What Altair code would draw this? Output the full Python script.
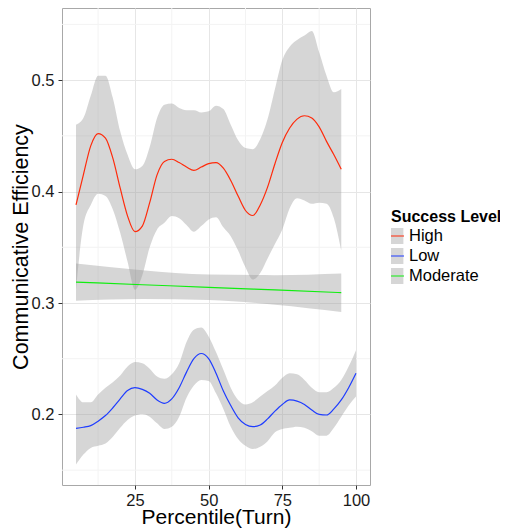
import altair as alt
import pandas as pd

levels = ["High", "Low", "Moderate"]
line_colors = ["#ff2a0a", "#1f3dff", "#10ee10"]

# High success level (smooth fit with confidence band)
x_high = [5, 7.5, 10, 12.5, 15, 17.5, 20, 22.5, 25, 27.5, 30, 32.5, 35, 37.5, 40,
          42.5, 45, 47.5, 50, 52.5, 55, 57.5, 60, 62.5, 65, 67.5, 70, 72.5, 75,
          77.5, 80, 82.5, 85, 87.5, 90, 92.5, 95]
high_fit = [0.388, 0.415, 0.441, 0.452, 0.448, 0.430, 0.403, 0.378, 0.364, 0.369,
            0.390, 0.415, 0.427, 0.429, 0.426, 0.422, 0.419, 0.422, 0.425, 0.426,
            0.421, 0.410, 0.396, 0.383, 0.3785, 0.388, 0.404, 0.425, 0.444, 0.457,
            0.465, 0.468, 0.466, 0.458, 0.445, 0.433, 0.420]
high_upper = [0.460, 0.466, 0.486, 0.504, 0.504, 0.484, 0.454, 0.433, 0.420, 0.423,
              0.440, 0.466, 0.478, 0.479, 0.475, 0.473, 0.473, 0.471, 0.472, 0.477,
              0.474, 0.460, 0.446, 0.439, 0.438, 0.447, 0.465, 0.492, 0.518, 0.530,
              0.536, 0.540, 0.544, 0.525, 0.504, 0.489, 0.492]
high_lower = [0.312, 0.370, 0.388, 0.398, 0.396, 0.384, 0.363, 0.337, 0.312, 0.325,
              0.350, 0.366, 0.372, 0.378, 0.376, 0.370, 0.364, 0.369, 0.375, 0.377,
              0.368, 0.360, 0.347, 0.332, 0.321, 0.327, 0.340, 0.353, 0.366, 0.385,
              0.394, 0.392, 0.389, 0.390, 0.389, 0.376, 0.347]

# Low success level
x_low = [5, 7.5, 10, 12.5, 15, 17.5, 20, 22.5, 25, 27.5, 30, 32.5, 35, 37.5, 40,
         42.5, 45, 47.5, 50, 52.5, 55, 57.5, 60, 62.5, 65, 67.5, 70, 72.5, 75,
         77.5, 80, 82.5, 85, 87.5, 90, 92.5, 95, 97.5, 100]
low_fit = [0.1875, 0.1885, 0.190, 0.194, 0.199, 0.206, 0.214, 0.2215, 0.224, 0.2225,
           0.219, 0.213, 0.210, 0.214, 0.224, 0.238, 0.250, 0.2547, 0.250, 0.237,
           0.221, 0.208, 0.197, 0.191, 0.189, 0.1905, 0.196, 0.203, 0.209, 0.213,
           0.212, 0.209, 0.204, 0.200, 0.1995, 0.205, 0.213, 0.224, 0.237]
low_upper = [0.218, 0.211, 0.211, 0.218, 0.224, 0.229, 0.235, 0.243, 0.247, 0.246,
             0.241, 0.234, 0.232, 0.236, 0.246, 0.265, 0.276, 0.278, 0.270, 0.256,
             0.240, 0.224, 0.213, 0.209, 0.211, 0.216, 0.221, 0.226, 0.233, 0.237,
             0.236, 0.231, 0.224, 0.220, 0.220, 0.224, 0.231, 0.243, 0.2577]
low_lower = [0.155, 0.164, 0.170, 0.172, 0.174, 0.180, 0.188, 0.195, 0.199, 0.2005,
             0.198, 0.192, 0.187, 0.189, 0.198, 0.215, 0.226, 0.231, 0.230, 0.219,
             0.205, 0.189, 0.178, 0.172, 0.169, 0.171, 0.176, 0.184, 0.187, 0.188,
             0.189, 0.188, 0.185, 0.181, 0.181, 0.188, 0.198, 0.208, 0.216]

# Moderate success level (linear fit)
x_mod = [5, 27.5, 50, 72.5, 95]
mod_fit = [0.3188, 0.3164, 0.3141, 0.3117, 0.3093]
mod_upper = [0.3355, 0.3295, 0.3255, 0.3250, 0.3265]
mod_lower = [0.3020, 0.3035, 0.3027, 0.2985, 0.2920]

# axis tick values and minor grid positions
x_ticks = [25, 50, 75, 100]
y_ticks = [0.2, 0.3, 0.4, 0.5]
minor_x = [12.5, 37.5, 62.5, 87.5]
minor_y = [0.15, 0.25, 0.35, 0.45, 0.55]

# band keys get their own legend (grey key squares) drawn under the line keys
band_keys = [lvl + " band" for lvl in levels]

rows = []
for lvl, bk, xs, fit, lo, hi in [("High", band_keys[0], x_high, high_fit, high_lower, high_upper),
                                 ("Low", band_keys[1], x_low, low_fit, low_lower, low_upper),
                                 ("Moderate", band_keys[2], x_mod, mod_fit, mod_lower, mod_upper)]:
    for x, f, l, h in zip(xs, fit, lo, hi):
        rows.append({"level": lvl, "band": bk, "pct": x, "fit": f,
                     "lower": l, "upper": h})
df = pd.DataFrame(rows)

FONT = "Liberation Sans"
xscale = alt.Scale(domain=[0.25, 104.75], nice=False, zero=False)
yscale = alt.Scale(domain=[0.1367, 0.5647], nice=False, zero=False)

xaxis = alt.Axis(title="Percentile(Turn)", values=x_ticks, format="d",
                 grid=True, gridColor="#e6e6e6", domain=False,
                 tickSize=4, tickColor="#333333",
                 labelFont=FONT, labelFontSize=16.5, labelColor="#1a1a1a",
                 labelBaseline="alphabetic", labelPadding=16,
                 titleFont=FONT, titleFontSize=21, titleFontWeight="normal",
                 titleColor="#000000", titleBaseline="alphabetic", titleY=38)
yaxis = alt.Axis(title="Communicative Efficiency", values=y_ticks, format=".1f",
                 grid=True, gridColor="#e6e6e6", domain=False,
                 tickSize=4, tickColor="#333333",
                 labelFont=FONT, labelFontSize=16.5, labelColor="#1a1a1a",
                 labelPadding=4,
                 titleFont=FONT, titleFontSize=21.5, titleFontWeight="normal",
                 titleColor="#000000", titleBaseline="alphabetic",
                 titleX=-35, titleY=238.5, titleAngle=-90)

vgrid = alt.Chart(pd.DataFrame({"pct": minor_x})).mark_rule(
    color="#f3f3f3", strokeWidth=1
).encode(x=alt.X("pct:Q", scale=xscale, axis=xaxis))

hgrid = alt.Chart(pd.DataFrame({"fit": minor_y})).mark_rule(
    color="#f3f3f3", strokeWidth=1
).encode(y=alt.Y("fit:Q", scale=yscale, axis=yaxis))

base = alt.Chart(df)

leg_common = dict(orient="none", legendX=329, legendY=201, direction="vertical",
                  columns=1, title="Success Level",
                  titleFont=FONT, titleFontSize=16, titleFontWeight="bold",
                  titleColor="#000000", titlePadding=2,
                  labelFont=FONT, labelFontSize=16.5, labelColor="#000000",
                  labelOffset=4, symbolSize=289, symbolStrokeWidth=1.2,
                  symbolOffset=-5,
                  rowPadding=2, padding=0, clipHeight=18,
                  labelExpr="replace(datum.label, ' band', '')")

area = base.mark_area(opacity=0.4, interpolate="monotone").encode(
    x=alt.X("pct:Q", scale=xscale, axis=xaxis),
    y=alt.Y("lower:Q", scale=yscale, axis=yaxis),
    y2="upper:Q",
    fill=alt.Fill("band:N", scale=alt.Scale(domain=band_keys, range=["#999999"] * 3),
                  legend=alt.Legend(symbolType="square", symbolOpacity=0.4,
                                    symbolStrokeColor="#ffffff",
                                    titleOpacity=0, labelOpacity=0, zindex=0,
                                    **leg_common)),
)

line = base.mark_line(strokeWidth=1.2, interpolate="monotone").encode(
    x=alt.X("pct:Q", scale=xscale, axis=xaxis),
    y=alt.Y("fit:Q", scale=yscale, axis=yaxis),
    stroke=alt.Stroke("level:N", scale=alt.Scale(domain=levels, range=line_colors),
                      legend=alt.Legend(symbolType="stroke", symbolOpacity=1,
                                        zindex=1, **leg_common)),
)

chart = alt.layer(vgrid, hgrid, area, line).properties(
    width=308, height=477,
    autosize=alt.AutoSizeParams(type="none"),
    padding={"left": 54, "top": 0, "right": 130, "bottom": 44},
    background="#ffffff",
).configure_view(stroke="#a8a8a8", strokeWidth=1)

chart.save("out.html", embed_options={"renderer": "svg", "actions": False})
